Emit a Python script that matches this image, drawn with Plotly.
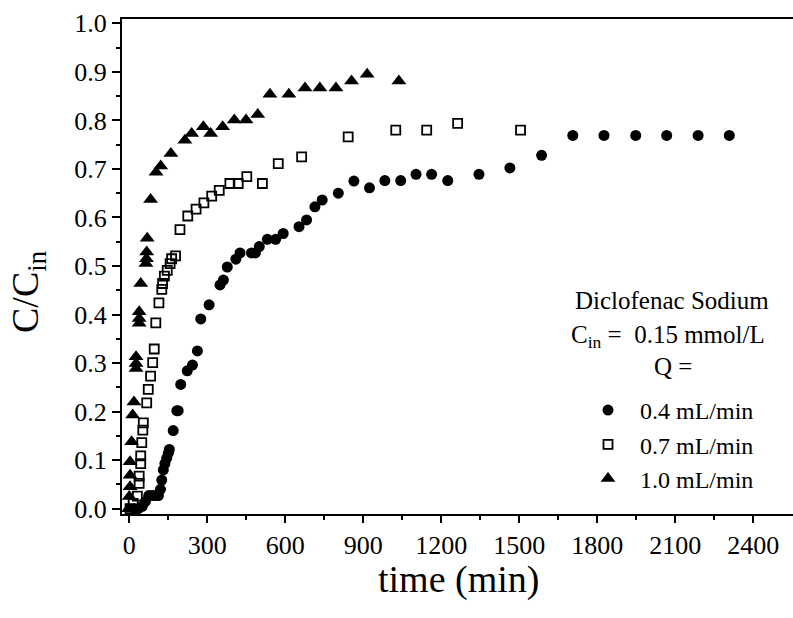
import plotly.graph_objects as go

# 0.4 mL/min (filled circles)
t_04 = [20, 35, 50, 62, 75, 88, 100, 112, 120, 125, 131, 137, 144, 150, 154, 169, 183, 188,
        198, 223, 243, 262, 275, 307, 349, 362, 377, 410, 426, 470, 485, 500, 531, 563, 592,
        653, 682, 714, 742, 804, 864, 924, 983, 1044, 1103, 1163, 1225, 1345, 1464, 1586,
        1706, 1826, 1948, 2067, 2188, 2308]
c_04 = [0.0, 0.0, 0.005, 0.015, 0.027, 0.027, 0.027, 0.027, 0.04, 0.059, 0.08, 0.093, 0.104,
        0.114, 0.122, 0.161, 0.202, 0.202, 0.256, 0.284, 0.296, 0.325, 0.391, 0.420, 0.461,
        0.471, 0.498, 0.514, 0.527, 0.527, 0.527, 0.540, 0.555, 0.555, 0.567, 0.581, 0.595,
        0.622, 0.636, 0.650, 0.675, 0.661, 0.676, 0.676, 0.689, 0.689, 0.676, 0.689, 0.702,
        0.728, 0.769, 0.769, 0.769, 0.769, 0.769, 0.769]

# 0.7 mL/min (open squares)
t_07 = [3, 15, 31, 38, 38, 44, 44, 48, 52, 54, 67, 73, 82, 90, 96, 102, 114, 125, 128, 135,
        146, 157, 163, 178, 195, 225, 257, 287, 317, 346, 387, 419, 452, 512, 573, 663, 842,
        1025, 1144, 1263, 1505]
c_07 = [0.0, 0.011, 0.026, 0.052, 0.067, 0.093, 0.109, 0.136, 0.162, 0.177, 0.218, 0.246,
        0.273, 0.301, 0.329, 0.383, 0.424, 0.452, 0.464, 0.479, 0.491, 0.505, 0.515, 0.521,
        0.575, 0.603, 0.617, 0.630, 0.644, 0.656, 0.670, 0.670, 0.684, 0.670, 0.711, 0.725,
        0.766, 0.780, 0.780, 0.794, 0.780]

# 1.0 mL/min (filled triangles)
t_10 = [-3, 0, 3, 3, 3, 9, 13, 18, 26, 26, 26, 38, 38, 38, 44, 64, 66, 67, 69, 82, 103, 121,
        160, 214, 240, 285, 313, 359, 404, 449, 494, 541, 614, 676, 733, 795, 855, 915, 1037]
c_10 = [0.0, 0.025, 0.045, 0.069, 0.097, 0.138, 0.193, 0.220, 0.289, 0.299, 0.313, 0.382,
        0.392, 0.406, 0.464, 0.505, 0.515, 0.529, 0.557, 0.637, 0.693, 0.706, 0.732, 0.759,
        0.773, 0.787, 0.773, 0.787, 0.801, 0.801, 0.812, 0.854, 0.854, 0.867, 0.867, 0.867,
        0.881, 0.895, 0.881]

x_ticks = [0, 300, 600, 900, 1200, 1500, 1800, 2100, 2400]
y_ticks = [0.0, 0.1, 0.2, 0.3, 0.4, 0.5, 0.6, 0.7, 0.8, 0.9, 1.0]

FONT = "Liberation Serif"
SP = "&nbsp;&nbsp;"

fig = go.Figure()
fig.add_trace(go.Scatter(x=t_04, y=c_04, mode="markers", name=SP + "0.4 mL/min",
                         legendgroup="a",
                         marker=dict(symbol="circle", size=11, color="black")))
fig.add_trace(go.Scatter(x=t_07, y=c_07, mode="markers", name=SP + "0.7 mL/min",
                         legendgroup="b",
                         marker=dict(symbol="square-open", size=9, color="black",
                                     line=dict(width=1.8, color="black"))))
fig.add_trace(go.Scatter(x=t_10, y=c_10, mode="markers", name=SP + "1.0 mL/min",
                         legendgroup="c",
                         marker=dict(symbol="triangle-up", size=13, color="black")))

fig.update_layout(
    width=793, height=618,
    margin=dict(l=122, r=0, t=19, b=104),
    plot_bgcolor="white", paper_bgcolor="white",
    font=dict(family=FONT, color="black"),
    showlegend=True,
    legend=dict(x=(588 - 122) / 671, y=(514 - 388) / 495, xanchor="left", yanchor="top",
                font=dict(family=FONT, size=24, color="black"),
                bgcolor="rgba(0,0,0,0)", tracegroupgap=0, itemwidth=30),
    xaxis=dict(range=[-28, 2553], tickvals=x_ticks, ticktext=[str(v) for v in x_ticks],
               showgrid=False, zeroline=False, showline=True, linecolor="black",
               linewidth=2, mirror=True, ticks="outside", ticklen=7, tickwidth=2,
               tickcolor="black", tickfont=dict(family=FONT, size=26, color="black"),
               minor=dict(tickvals=[150, 450, 750, 1050, 1350, 1650, 1950, 2250],
                          ticks="outside", ticklen=4, tickwidth=2, tickcolor="black")),
    yaxis=dict(range=[-0.0109, 1.0089], tickvals=y_ticks,
               ticktext=[f"{v:.1f}" for v in y_ticks],
               showgrid=False, zeroline=False, showline=True, linecolor="black",
               linewidth=2, mirror=False, ticks="outside", ticklen=8, tickwidth=2,
               tickcolor="black", tickfont=dict(family=FONT, size=26, color="black"),
               minor=dict(tickvals=[0.05 + 0.1 * i for i in range(10)],
                          ticks="outside", ticklen=4, tickwidth=2, tickcolor="black")),
    annotations=[
        dict(text="time (min)", xref="paper", yref="paper", x=(458 - 122) / 671,
             y=(514 - 579) / 495, showarrow=False, xanchor="center", yanchor="middle",
             font=dict(family=FONT, size=38, color="black")),
        dict(text="C/C<sub>in</sub>", xref="paper", yref="paper", x=(28 - 122) / 671,
             y=(514 - 292) / 495, showarrow=False, xanchor="center", yanchor="middle",
             textangle=-90, font=dict(family=FONT, size=38, color="black")),
        dict(text="Diclofenac Sodium", xref="paper", yref="paper", x=(672 - 122) / 671,
             y=(514 - 300) / 495, showarrow=False, xanchor="center", yanchor="middle",
             font=dict(family=FONT, size=25, color="black")),
        dict(text="C<sub>in</sub> =  0.15 mmol/L", xref="paper", yref="paper",
             x=(668 - 122) / 671, y=(514 - 337) / 495, showarrow=False,
             xanchor="center", yanchor="middle",
             font=dict(family=FONT, size=25, color="black")),
        dict(text="Q =", xref="paper", yref="paper", x=(673 - 122) / 671,
             y=(514 - 366) / 495, showarrow=False, xanchor="center", yanchor="middle",
             font=dict(family=FONT, size=25, color="black")),
    ],
)

fig.write_html("out.html")
